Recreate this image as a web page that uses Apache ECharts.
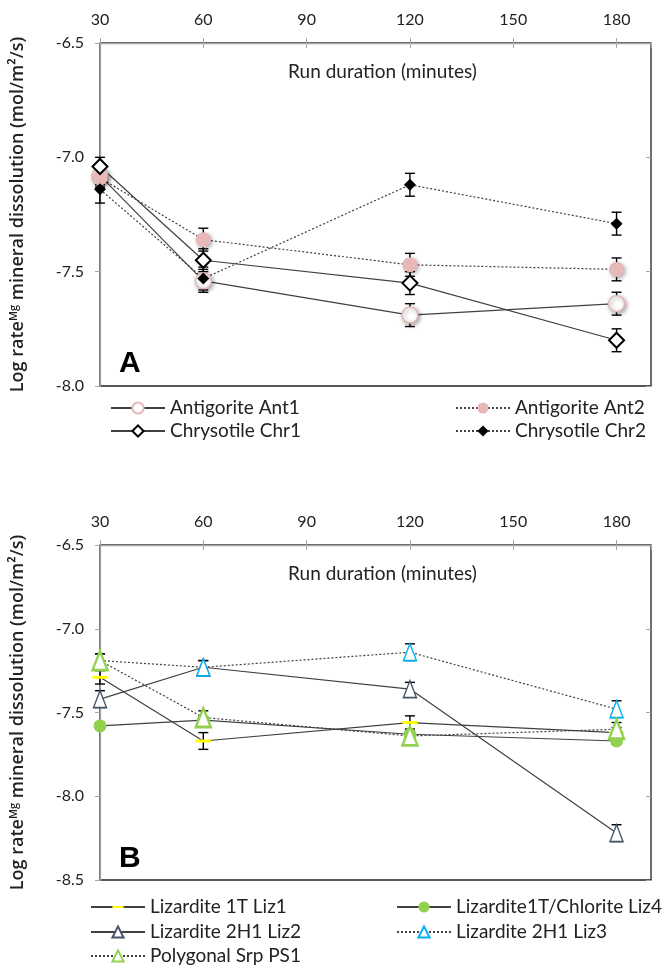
<!DOCTYPE html>
<html>
<head>
<meta charset="utf-8">
<script src="https://cdn.jsdelivr.net/npm/echarts@6/dist/echarts.min.js"></script>
<style>
  html, body { margin: 0; padding: 0; background: #fff; }
  #main { width: 664px; height: 968px; }
</style>
</head>
<body>
<div id="main"></div>
<script>
// run durations (minutes)
var durations = [30, 60, 120, 180];

// panel A
var ant1 = [-7.08, -7.54, -7.69, -7.64];
var ant1Err = [0.04, 0.05, 0.05, 0.05];
var ant2 = [-7.09, -7.36, -7.47, -7.49];
var ant2Err = [0.04, 0.05, 0.05, 0.05];
var chr1 = [-7.04, -7.45, -7.55, -7.80];
var chr1Err = [0.04, 0.05, 0.05, 0.05];
var chr2 = [-7.14, -7.53, -7.12, -7.29];
var chr2Err = [0.06, 0.05, 0.05, 0.05];

// panel B
var liz1 = [-7.29, -7.67, -7.56, -7.62];
var liz1Err = [0.04, 0.05, 0.04, 0.03];
var liz4 = [-7.58, -7.545, -7.63, -7.67];
var liz4Err = [0.02, 0.02, 0.02, 0.02];
var liz2 = [-7.42, -7.23, -7.36, -8.22];
var liz2Err = [0.05, 0.04, 0.04, 0.05];
var liz3 = [-7.19, -7.23, -7.14, -7.48];
var liz3Err = [0.04, 0.04, 0.05, 0.05];
var ps1 = [-7.19, -7.53, -7.64, -7.60];
var ps1Err = [0.04, 0.04, 0.04, 0.04];

var FONT = 'Lato';
var LINE = '#404040';
var AXIS = '#a6a6a6';

function lineSeries(name, values, gi, dotted, symbol, size, itemStyle) {
  return {
    name: name,
    type: 'line',
    xAxisIndex: gi,
    yAxisIndex: gi,
    data: durations.map(function (d, i) { return [d, values[i]]; }),
    symbol: symbol,
    symbolSize: size,
    showAllSymbol: true,
    lineStyle: { color: LINE, width: 1.2, type: dotted ? [2, 2] : 'solid' },
    itemStyle: itemStyle,
    z: 3
  };
}

//error bars drawn with the axes' coords
function errSeries(values, errs, gi) {
  return {
    type: 'custom',
    xAxisIndex: gi,
    yAxisIndex: gi,
    z: 2,
    silent: true,
    data: durations.map(function (d, i) { return [d, values[i], errs[i]]; }),
    renderItem: function (params, api) {
      var x = api.value(0), y = api.value(1), e = api.value(2);
      var t = api.coord([x, y + e]);
      var b = api.coord([x, y - e]);
      var w = 5;
      var st = { stroke: '#000', lineWidth: 1.4 };
      return {
        type: 'group',
        children: [
          { type: 'line', shape: { x1: t[0], y1: t[1], x2: b[0], y2: b[1] }, style: st },
          { type: 'line', shape: { x1: t[0] - w, y1: t[1], x2: t[0] + w, y2: t[1] }, style: st },
          { type: 'line', shape: { x1: b[0] - w, y1: b[1], x2: b[0] + w, y2: b[1] }, style: st }
        ]
      };
    }
  };
}

var shadow = { shadowBlur: 4, shadowColor: 'rgba(0,0,0,0.35)', shadowOffsetX: 1.5, shadowOffsetY: 1.5 };

var series = [
  errSeries(ant1, ant1Err, 0),
  errSeries(ant2, ant2Err, 0),
  errSeries(chr1, chr1Err, 0),
  errSeries(chr2, chr2Err, 0),
  lineSeries('Antigorite Ant1', ant1, 0, false, 'circle', 16,
    Object.assign({ color: '#fff', borderColor: '#e6b8b7', borderWidth: 1.5 }, shadow)),
  lineSeries('Antigorite Ant2', ant2, 0, true, 'circle', 15,
    Object.assign({ color: '#e6b9b8' }, shadow)),
  lineSeries('Chrysotile Chr1', chr1, 0, false, 'diamond', 15,
    { color: '#fff', borderColor: '#000', borderWidth: 2 }),
  lineSeries('Chrysotile Chr2', chr2, 0, true, 'diamond', 12,
    { color: '#000' }),

  errSeries(liz1, liz1Err, 1),
  errSeries(liz4, liz4Err, 1),
  errSeries(liz2, liz2Err, 1),
  errSeries(liz3, liz3Err, 1),
  errSeries(ps1, ps1Err, 1),
  // yellow dash marker: 'line' symbol, stroke set by the border
  lineSeries('Lizardite 1T Liz1', liz1, 1, false, 'line', 15,
    { color: '#ffff00', borderColor: '#ffff00', borderWidth: 3 }),
  lineSeries('Lizardite1T/Chlorite Liz4', liz4, 1, false, 'circle', 13,
    { color: '#92d050' }),
  lineSeries('Lizardite 2H1 Liz2', liz2, 1, false, 'triangle', [13, 17],
    { color: '#fff', borderColor: '#44546a', borderWidth: 1.5 }),
  lineSeries('Lizardite 2H1 Liz3', liz3, 1, true, 'triangle', [13, 17],
    { color: '#fff', borderColor: '#00b0f0', borderWidth: 1.5 }),
  lineSeries('Polygonal Srp PS1', ps1, 1, true, 'triangle', [15, 19],
    { color: '#fff', borderColor: '#92d050', borderWidth: 2.5 })
];

function xAxis(gi, dup) {
  return {
    type: 'value',
    gridIndex: gi,
    position: 'top',
    min: 30,
    max: 190,
    interval: 30,
    name: dup ? '' : 'Run duration (minutes)',
    nameLocation: 'middle',
    nameGap: -38,
    nameTextStyle: { fontFamily: FONT, fontSize: 19, color: '#222', padding: [0, 0, 0, 14] },
    axisLine: { show: !dup, lineStyle: { color: AXIS, width: 1.3 } },
    axisTick: { inside: dup, lineStyle: { color: AXIS }, length: 5 },
    axisLabel: { show: !dup, fontFamily: FONT, fontSize: 16, color: '#222', margin: 15, showMaxLabel: false },
    splitLine: { show: false }
  };
}

function yAxis(gi, min, dup) {
  return {
    type: 'value',
    gridIndex: gi,
    min: min,
    max: -6.5,
    interval: 0.5,
    name: dup ? '' : 'Log rate{sup|Mg} mineral dissolution (mol/m²/s)',
    nameLocation: 'middle',
    nameGap: 72,
    nameRotate: 90,
    nameTextStyle: {
      fontFamily: 'Open Sans', fontSize: 18, fontWeight: 600, color: '#222',
      rich: { sup: { fontFamily: 'Open Sans', fontSize: 11, fontWeight: 600, color: '#222', verticalAlign: 'top', padding: [0, 0, 9, 0] } }
    },
    axisLine: { show: !dup, lineStyle: { color: AXIS, width: 1.3 } },
    axisTick: { show: true, inside: dup, lineStyle: { color: AXIS }, length: 5 },
    axisLabel: {
      show: !dup, fontFamily: FONT, fontSize: 16, color: '#222', margin: 16,
      formatter: function (v) { return v.toFixed(1); }
    },
    splitLine: { show: false }
  };
}

// one legend per entry so each can sit where it sits in the figure
function legendItem(name, left, cy) {
  return {
    data: [name],
    left: left,
    top: cy - 10,
    padding: 0,
    itemWidth: 54,
    itemHeight: 14,
    textStyle: { fontFamily: FONT, fontSize: 19, lineHeight: 20, color: '#222' },
    selectedMode: false
  };
}

var titleStyle = { fontFamily: 'Liberation Sans', fontWeight: 'bold', fontSize: 30, color: '#000' };

var option = {
  animation: false,
  backgroundColor: '#fff',
  title: [
    { text: 'A', left: 114, top: 344, textStyle: titleStyle },
    { text: 'B', left: 114, top: 839, textStyle: titleStyle }
  ],
  grid: [
    { left: 98, right: 13, top: 43, height: 343, show: true, borderColor: '#222', borderWidth: 1.3 },
    { left: 98, right: 13, top: 545, height: 335, show: true, borderColor: '#222', borderWidth: 1.3 }
  ],
  xAxis: [xAxis(0), xAxis(1), xAxis(0, true), xAxis(1, true)],
  yAxis: [yAxis(0, -8), yAxis(1, -8.5), yAxis(0, -8, true), yAxis(1, -8.5, true)],
  legend: [
    legendItem('Antigorite Ant1', 110, 408),
    legendItem('Chrysotile Chr1', 110, 431),
    legendItem('Antigorite Ant2', 455, 408),
    legendItem('Chrysotile Chr2', 455, 431),
    legendItem('Lizardite 1T Liz1', 90, 907),
    legendItem('Lizardite 2H1 Liz2', 90, 932),
    legendItem('Polygonal Srp PS1', 90, 956),
    legendItem('Lizardite1T/Chlorite Liz4', 396, 907),
    legendItem('Lizardite 2H1 Liz3', 396, 932)
  ],
  series: series
};

var chart = echarts.init(document.getElementById('main'), null, { renderer: 'canvas' });
chart.setOption(option);
</script>
</body>
</html>
